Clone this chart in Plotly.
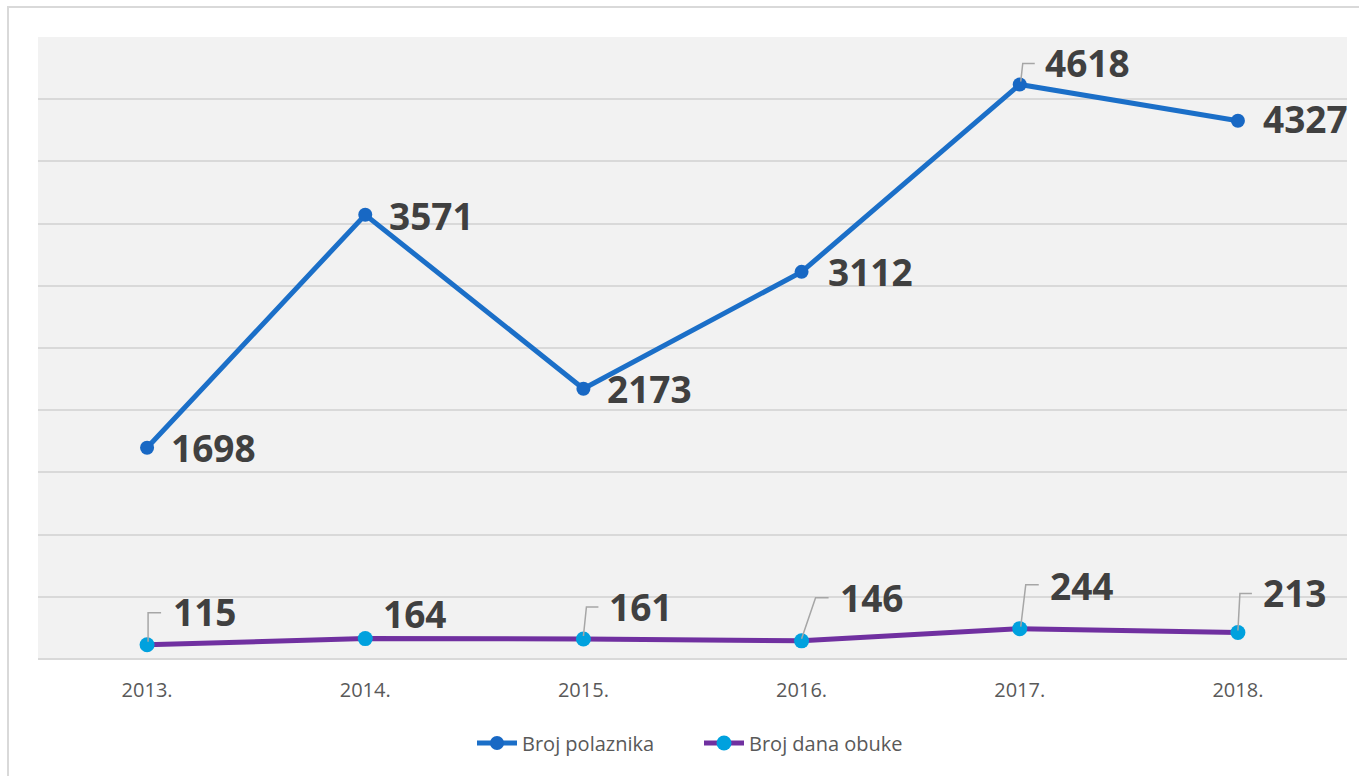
import plotly.graph_objects as go

years = ["2013.", "2014.", "2015.", "2016.", "2017.", "2018."]
polaznici = [1698, 3571, 2173, 3112, 4618, 4327]
dani_obuke = [115, 164, 161, 146, 244, 213]

# label placement (pixel offsets from point: x to left edge of text, y up)
lab1_off = [(22, 0), (22, -1), (22, 0), (24, 0), (23, 22), (23, 2)]
lab2_off = [(24, 33), (16, 25), (24, 32), (36, 43), (28, 43), (23, 40)]
# leader lines: pixel path relative to point (y up), None = no leader
lead1 = [None, None, None, None, [(1, 3), (3, 21), (15, 21)], None]
lead2 = [[(1, 3), (1, 32), (14, 32)], None, [(0, 3), (3, 32), (15, 32)],
         [(0, 2), (14, 43), (27, 43)], [(1, 2), (6, 44), (19, 44)],
         [(0, 2), (2, 39), (14, 39)]]

W, H = 1359, 776
L, R, T, B = 38, 12, 37, 117
pw, ph = W - L - R, H - T - B

xs = list(range(len(years)))

fig = go.Figure()
fig.add_trace(go.Scatter(
    x=xs, y=polaznici, name="Broj polaznika", mode="lines+markers",
    line=dict(color="#1B6FC8", width=5),
    marker=dict(color="#1868C4", size=14),
))
fig.add_trace(go.Scatter(
    x=xs, y=dani_obuke, name="Broj dana obuke", mode="lines+markers",
    line=dict(color="#7030A0", width=5),
    marker=dict(color="#00A1DE", size=15),
))

lab_font = dict(family="Open Sans", size=37, color="#404040", weight="bold")
annotations = []
shapes = []
for series, offs, leads in [(polaznici, lab1_off, lead1), (dani_obuke, lab2_off, lead2)]:
    for i, v in enumerate(series):
        dx, dy = offs[i]
        annotations.append(dict(
            x=xs[i], y=v, xref="x", yref="y", text=f"<b>{v}</b>", showarrow=False,
            xanchor="left", yanchor="middle", xshift=dx, yshift=dy, font=lab_font,
        ))
        if leads[i]:
            pts = leads[i]
            path = "M" + " L".join(f"{px},{py}" for px, py in pts)
            shapes.append(dict(
                type="path", xref="x", yref="y", xsizemode="pixel", ysizemode="pixel",
                xanchor=xs[i], yanchor=v, path=path,
                line=dict(color="#A6A6A6", width=1.5), layer="above",
            ))

# outer chart border (extends beyond the window at right/bottom)
def px2paper_x(p):
    return (p - L) / pw

def px2paper_y(p):
    return (H - B - p) / ph

shapes.append(dict(
    type="rect", xref="paper", yref="paper",
    x0=px2paper_x(8), x1=px2paper_x(1366), y0=px2paper_y(790), y1=px2paper_y(7),
    line=dict(color="#D9D9D9", width=2), fillcolor="rgba(0,0,0,0)", layer="below",
))

fig.update_layout(
    width=W, height=H,
    margin=dict(l=L, r=R, t=T, b=B),
    paper_bgcolor="white", plot_bgcolor="#F2F2F2",
    showlegend=True,
    legend=dict(orientation="h", x=px2paper_x(472), xanchor="left", y=px2paper_y(743), yanchor="middle",
                font=dict(family="Open Sans", size=20, color="#595959"),
                itemwidth=40, entrywidth=172, bgcolor="rgba(0,0,0,0)"),
    annotations=annotations, shapes=shapes,
    xaxis=dict(range=[-0.5, len(years) - 0.5], tickmode="array", tickvals=xs, ticktext=years,
               showgrid=False, zeroline=False, showline=False, ticks="",
               ticklabelstandoff=17,
               tickfont=dict(family="Open Sans", size=20, color="#595959")),
    yaxis=dict(range=[0, 5000], dtick=500, showticklabels=False, ticks="",
               showgrid=True, gridcolor="#D9D9D9", gridwidth=2,
               zeroline=True, zerolinecolor="#D9D9D9", zerolinewidth=2, showline=False),
)

fig.write_html("out.html", config={"displayModeBar": False},
               post_script="document.body.style.margin='0';document.body.style.overflow='hidden';")
